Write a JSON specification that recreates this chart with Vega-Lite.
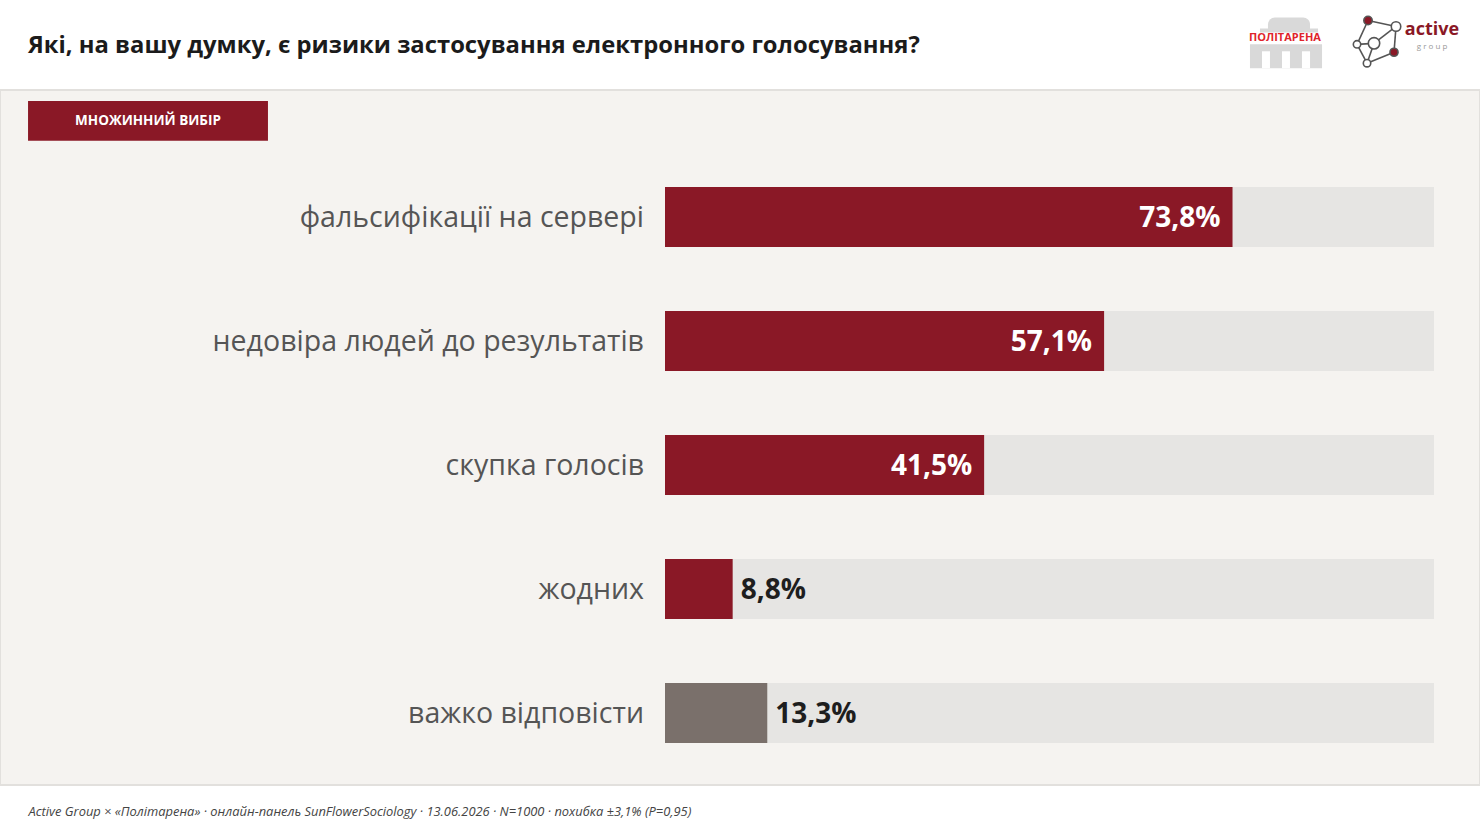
{
  "$schema": "https://vega.github.io/schema/vega-lite/v6.json",
  "width": 1480,
  "height": 833,
  "padding": {"top": 90, "bottom": 48, "left": 0, "right": 0},
  "autosize": {"type": "none", "contains": "padding"},
  "background": "#ffffff",
  "title": {
    "text": "Які, на вашу думку, є ризики застосування електронного голосування?",
    "anchor": "start",
    "frame": "group",
    "dx": 28,
    "offset": -45,
    "font": "Open Sans",
    "fontSize": 23.8,
    "fontWeight": "bold",
    "color": "#1b1b1b"
  },
  "data": {
    "values": [
      {"ryzyk": "фальсифікації на сервері", "chastka": 0.738, "typ": "ризик"},
      {"ryzyk": "недовіра людей до результатів", "chastka": 0.571, "typ": "ризик"},
      {"ryzyk": "скупка голосів", "chastka": 0.415, "typ": "ризик"},
      {"ryzyk": "жодних", "chastka": 0.088, "typ": "ризик"},
      {"ryzyk": "важко відповісти", "chastka": 0.133, "typ": "важко"}
    ]
  },
  "datasets": {
    "plashka": [
      {"napys": "МНОЖИННИЙ ВИБІР", "x0": -0.8283, "x1": -0.5163, "xc": -0.6723, "y0": 11, "y1": 51, "yc": 31}
    ],
    "budivlia": [
      {"x0": 0.7607, "x1": 0.8544, "y0": -46, "y1": -22, "kolir": "#d9d9d9"},
      {"x0": 0.7737, "x1": 0.8492, "y0": -62, "y1": -58, "kolir": "#d9d9d9"},
      {"x0": 0.7763, "x1": 0.7867, "y0": -39, "y1": -22, "kolir": "#ffffff"},
      {"x0": 0.8023, "x1": 0.8127, "y0": -39, "y1": -22, "kolir": "#ffffff"},
      {"x0": 0.8283, "x1": 0.8388, "y0": -39, "y1": -22, "kolir": "#ffffff"}
    ],
    "kupol": [
      {"x0": 0.7841, "x1": 0.8388, "y0": -73, "y1": -59}
    ],
    "zvyazky": [
      {"xa": 0.9142, "ya": -70, "xb": 0.9506, "yb": -64},
      {"xa": 0.9142, "ya": -70, "xb": 0.8999, "yb": -46},
      {"xa": 0.9506, "ya": -64, "xb": 0.9220, "yb": -47},
      {"xa": 0.9506, "ya": -64, "xb": 0.9480, "yb": -38},
      {"xa": 0.8999, "ya": -46, "xb": 0.9220, "yb": -47},
      {"xa": 0.8999, "ya": -46, "xb": 0.9129, "yb": -27},
      {"xa": 0.9220, "ya": -47, "xb": 0.9129, "yb": -27},
      {"xa": 0.9480, "ya": -38, "xb": 0.9129, "yb": -27}
    ],
    "vuzly": [
      {"xv": 0.9142, "yv": -70, "zalyvka": "#8a1826", "ploshcha": 70},
      {"xv": 0.9506, "yv": -64, "zalyvka": "#ffffff", "ploshcha": 90},
      {"xv": 0.8999, "yv": -46, "zalyvka": "#ffffff", "ploshcha": 55},
      {"xv": 0.9220, "yv": -47, "zalyvka": "#ffffff", "ploshcha": 130},
      {"xv": 0.9480, "yv": -38, "zalyvka": "#8a1826", "ploshcha": 65},
      {"xv": 0.9129, "yv": -27, "zalyvka": "#ffffff", "ploshcha": 55}
    ],
    "napysy": [
      {"logo": "ПОЛІТАРЕНА", "xl": 0.8062, "yl": -52, "kolir": "#e0242b", "rozmir": 11, "zhyrnyi": true},
      {"logo": "active", "xl": 0.9974, "yl": -60, "kolir": "#8a1826", "rozmir": 18, "zhyrnyi": true},
      {"logo": "g r o u p", "xl": 0.9974, "yl": -43, "kolir": "#999999", "rozmir": 8, "zhyrnyi": false}
    ]
  },
  "layer": [
    {
      "layer": [
        {
          "mark": {"type": "bar", "color": "#e6e5e3"},
          "encoding": {
            "x": {
              "datum": 1,
              "type": "quantitative",
              "scale": {"domain": [0, 1], "range": [665, 1434]},
              "axis": {
                "domain": false,
                "ticks": false,
                "labels": false,
                "grid": false,
                "title": "Active Group × «Політарена»  ·  онлайн-панель SunFlowerSociology  ·  13.06.2026  ·  N=1000  ·  похибка ±3,1% (P=0,95)",
                "titleX": 28,
                "titleY": 30,
                "titleAlign": "left",
                "titleBaseline": "alphabetic",
                "titleFont": "Open Sans",
                "titleFontStyle": "italic",
                "titleFontWeight": "normal",
                "titleFontSize": 12.9,
                "titleColor": "#444444"
              }
            },
            "y": {
              "field": "ryzyk",
              "type": "nominal",
              "sort": null,
              "scale": {"range": [65, 685], "paddingInner": 0.516, "paddingOuter": 0.258},
              "axis": null
            }
          }
        },
        {
          "mark": {"type": "bar"},
          "encoding": {
            "x": {"field": "chastka", "type": "quantitative"},
            "y": {"field": "ryzyk", "type": "nominal", "sort": null},
            "color": {
              "field": "typ",
              "type": "nominal",
              "scale": {"domain": ["ризик", "важко"], "range": ["#8a1826", "#7a706b"]},
              "legend": null
            }
          }
        },
        {
          "mark": {"type": "text", "align": "right", "baseline": "middle", "dx": -21, "dy": 1, "font": "Open Sans", "fontSize": 28.5, "color": "#555555"},
          "encoding": {
            "x": {"datum": 0, "type": "quantitative"},
            "y": {"field": "ryzyk", "type": "nominal", "sort": null},
            "text": {"field": "ryzyk"}
          }
        },
        {
          "transform": [{"filter": "datum.chastka >= 0.2"}],
          "mark": {"type": "text", "align": "right", "baseline": "middle", "dx": -12, "dy": 2, "font": "Open Sans", "fontSize": 28, "fontWeight": "bold", "color": "#ffffff"},
          "encoding": {
            "x": {"field": "chastka", "type": "quantitative"},
            "y": {"field": "ryzyk", "type": "nominal", "sort": null},
            "text": {"field": "chastka", "type": "quantitative", "format": ".1%"}
          }
        },
        {
          "transform": [{"filter": "datum.chastka < 0.2"}],
          "mark": {"type": "text", "align": "left", "baseline": "middle", "dx": 8, "dy": 2, "font": "Open Sans", "fontSize": 28, "fontWeight": "bold", "color": "#1e1e1e"},
          "encoding": {
            "x": {"field": "chastka", "type": "quantitative"},
            "y": {"field": "ryzyk", "type": "nominal", "sort": null},
            "text": {"field": "chastka", "type": "quantitative", "format": ".1%"}
          }
        }
      ]
    },
    {
      "layer": [
        {
          "data": {"name": "plashka"},
          "mark": {"type": "rect", "color": "#8a1826"},
          "encoding": {
            "x": {"field": "x0", "type": "quantitative"},
            "x2": {"field": "x1"},
            "y": {"field": "y0", "type": "quantitative", "scale": {"domain": [0, 695], "range": [0, 695]}, "axis": null},
            "y2": {"field": "y1"}
          }
        },
        {
          "data": {"name": "plashka"},
          "mark": {"type": "text", "align": "center", "baseline": "middle", "font": "Open Sans", "fontSize": 13.5, "fontWeight": "bold", "color": "#ffffff"},
          "encoding": {
            "x": {"field": "xc", "type": "quantitative"},
            "y": {"field": "yc", "type": "quantitative"},
            "text": {"field": "napys"}
          }
        },
        {
          "data": {"name": "kupol"},
          "mark": {"type": "rect", "color": "#d9d9d9", "cornerRadiusTopLeft": 21, "cornerRadiusTopRight": 21},
          "encoding": {
            "x": {"field": "x0", "type": "quantitative"},
            "x2": {"field": "x1"},
            "y": {"field": "y0", "type": "quantitative"},
            "y2": {"field": "y1"}
          }
        },
        {
          "data": {"name": "budivlia"},
          "mark": {"type": "rect"},
          "encoding": {
            "x": {"field": "x0", "type": "quantitative"},
            "x2": {"field": "x1"},
            "y": {"field": "y0", "type": "quantitative"},
            "y2": {"field": "y1"},
            "color": {"field": "kolir", "type": "nominal", "scale": null}
          }
        },
        {
          "data": {"name": "zvyazky"},
          "mark": {"type": "rule", "color": "#555555", "strokeWidth": 1.6},
          "encoding": {
            "x": {"field": "xa", "type": "quantitative"},
            "y": {"field": "ya", "type": "quantitative"},
            "x2": {"field": "xb"},
            "y2": {"field": "yb"}
          }
        },
        {
          "data": {"name": "vuzly"},
          "mark": {"type": "point", "shape": "circle", "filled": true, "stroke": "#555555", "strokeWidth": 1.6, "opacity": 1},
          "encoding": {
            "x": {"field": "xv", "type": "quantitative"},
            "y": {"field": "yv", "type": "quantitative"},
            "fill": {"field": "zalyvka", "type": "nominal", "scale": null},
            "size": {"field": "ploshcha", "type": "quantitative", "scale": null}
          }
        },
        {
          "data": {"name": "napysy"},
          "transform": [{"filter": "datum.zhyrnyi"}],
          "mark": {"type": "text", "align": "center", "baseline": "middle", "font": "Open Sans", "fontWeight": "bold"},
          "encoding": {
            "x": {"field": "xl", "type": "quantitative"},
            "y": {"field": "yl", "type": "quantitative"},
            "text": {"field": "logo"},
            "color": {"field": "kolir", "type": "nominal", "scale": null},
            "size": {"field": "rozmir", "type": "quantitative", "scale": null}
          }
        },
        {
          "data": {"name": "napysy"},
          "transform": [{"filter": "!datum.zhyrnyi"}],
          "mark": {"type": "text", "align": "center", "baseline": "middle", "font": "Open Sans"},
          "encoding": {
            "x": {"field": "xl", "type": "quantitative"},
            "y": {"field": "yl", "type": "quantitative"},
            "text": {"field": "logo"},
            "color": {"field": "kolir", "type": "nominal", "scale": null},
            "size": {"field": "rozmir", "type": "quantitative", "scale": null}
          }
        }
      ]
    }
  ],
  "resolve": {"scale": {"y": "independent"}},
  "config": {
    "locale": {
      "number": {"decimal": ",", "thousands": " ", "grouping": [3], "currency": ["", ""]}
    },
    "view": {"fill": "#f5f3f0", "stroke": "#e2e0dd", "strokeWidth": 2}
  }
}
